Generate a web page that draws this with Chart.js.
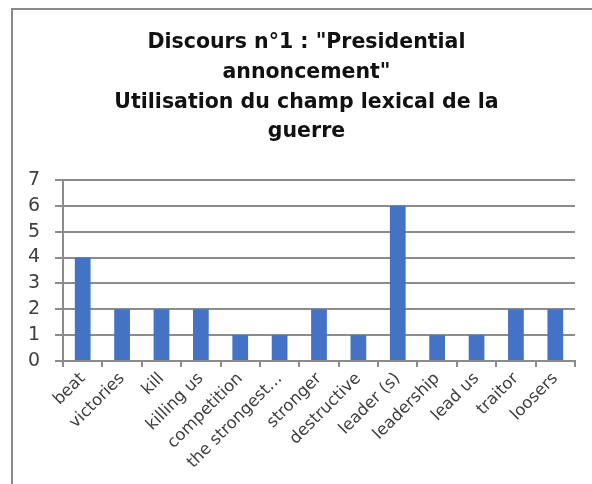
<!DOCTYPE html>
<html>
<head>
<meta charset="utf-8">
<script src="https://cdn.jsdelivr.net/npm/chart.js@4/dist/chart.umd.min.js"></script>
<style>
  html, body { margin: 0; padding: 0; background: #fff; overflow: hidden; }
  body { width: 592px; height: 484px; position: relative; }
  .frame {
    position: absolute; left: 11px; top: 8px; width: 700px; height: 600px;
    border-left: 2px solid #8a8a8a; border-top: 2px solid #8a8a8a;
  }
  .holder { position: absolute; left: 13px; top: 10px; width: 587px; height: 474px; }
</style>
</head>
<body>
<div class="frame"></div>
<div class="holder"><canvas id="c"></canvas></div>
<script>
// Word categories and occurrence counts
const categories = ['beat', 'victories', 'kill', 'killing us', 'competition', 'the strongest…',
  'stronger', 'destructive', 'leader (s)', 'leadership', 'lead us', 'traitor', 'loosers'];
const counts = [4, 2, 2, 2, 1, 1, 2, 1, 6, 1, 1, 2, 2];
const titleLines = ['Discours n°1 : "Presidential', 'annoncement"',
  'Utilisation du champ lexical de la', 'guerre'];
const yTicks = [0, 1, 2, 3, 4, 5, 6, 7];

const FONT = '"DejaVu Sans", sans-serif';
const GRID = '#8c8c8c';

new Chart(document.getElementById('c'), {
  type: 'bar',
  data: {
    labels: categories,
    datasets: [{
      data: counts,
      backgroundColor: '#4472c4',
      barPercentage: 0.8,
      categoryPercentage: 0.5
    }]
  },
  options: {
    responsive: true,
    maintainAspectRatio: false,
    animation: false,
    layout: { padding: { top: 18, right: 0, left: 0, bottom: 0 } },
    plugins: {
      legend: { display: false },
      tooltip: { enabled: false },
      title: {
        display: true,
        text: titleLines,
        color: '#111',
        font: { family: FONT, size: 20.5, weight: 'bold', lineHeight: 1.45 },
        padding: { top: 0, bottom: 33 }
      }
    },
    scales: {
      y: {
        min: 0,
        max: 7,
        afterBuildTicks: s => { s.ticks = yTicks.map(v => ({ value: v })); },
        afterFit: s => { s.width = 50; },
        ticks: { color: '#3f3f3f', font: { family: FONT, size: 19 }, padding: 15 },
        grid: { color: GRID, lineWidth: 2, tickLength: 8 },
        border: { color: GRID, width: 2 }
      },
      // empty right-hand margin so the title stays centred on the whole frame
      yRight: {
        position: 'right',
        min: 0,
        max: 7,
        afterFit: s => { s.width = 25; },
        ticks: { display: false },
        grid: { drawOnChartArea: false, drawTicks: false },
        border: { display: false }
      },
      x: {
        afterFit: s => { s.height = 123; },
        ticks: {
          color: '#3f3f3f',
          font: { family: FONT, size: 16.5 },
          maxRotation: 45, minRotation: 45,
          autoSkip: false,
          padding: 2
        },
        grid: { offset: true, drawOnChartArea: false, color: GRID, lineWidth: 2, tickLength: 6 },
        border: { color: GRID, width: 2 }
      }
    }
  }
});
</script>
</body>
</html>
